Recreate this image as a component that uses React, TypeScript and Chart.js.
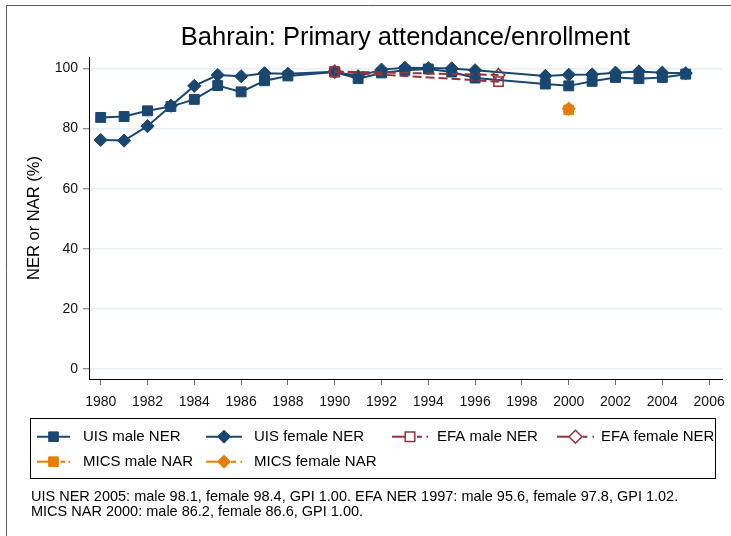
import React, { useEffect, useRef } from 'react';
import { Chart, registerables } from 'chart.js';

Chart.register(...registerables);

const chartTitle = 'Bahrain: Primary attendance/enrollment';
const yAxisTitle = 'NER or NAR (%)';

const uisYears = [1980, 1981, 1982, 1983, 1984, 1985, 1986, 1987, 1988, 1990, 1991, 1992, 1993, 1994, 1995, 1996, 1999, 2000, 2001, 2002, 2003, 2004, 2005];
const uisMale = [83.7, 84.0, 85.9, 87.3, 89.7, 94.3, 92.2, 95.9, 97.5, 98.8, 96.6, 98.5, 99.4, 99.8, 98.8, 96.8, 94.8, 94.2, 95.7, 97.0, 96.6, 97.0, 98.1];
const uisFemale = [76.2, 76.0, 80.8, 87.6, 94.2, 97.8, 97.4, 98.4, 98.2, 98.9, 97.4, 99.6, 100.2, 100.1, 100.0, 99.4, 97.5, 97.9, 98.0, 98.6, 99.0, 98.6, 98.4];

const efaYears = [1990, 1997];
const efaMale = [98.9, 95.6];
const efaFemale = [99.0, 97.8];

const micsYears = [2000];
const micsMale = [86.2];
const micsFemale = [86.6];

const xTicks = [1980, 1982, 1984, 1986, 1988, 1990, 1992, 1994, 1996, 1998, 2000, 2002, 2004, 2006];
const yTicks = [0, 20, 40, 60, 80, 100];

const seriesLabels = ['UIS male NER', 'UIS female NER', 'EFA male NER', 'EFA female NER', 'MICS male NAR', 'MICS female NAR'];

const footnoteLines = [
  'UIS NER 2005: male 98.1, female 98.4, GPI 1.00. EFA NER 1997: male 95.6, female 97.8, GPI 1.02.',
  'MICS NAR 2000: male 86.2, female 86.6, GPI 1.00.',
];

const NAVY = '#1a476f';
const MAROON = '#90353b';
const ORANGE = '#e37e00';
const FONT = '"Liberation Sans", Arial, Helvetica, sans-serif';

const pts = (xs: number[], ys: number[]) => xs.map((x, i) => ({ x, y: ys[i] }));

function drawMarker(ctx: CanvasRenderingContext2D, kind: string, x: number, y: number, color: string, hollow: boolean) {
  ctx.save();
  ctx.setLineDash([]);
  ctx.beginPath();
  if (kind === 'square') {
    const h = 4.8;
    ctx.rect(x - h, y - h, 2 * h, 2 * h);
  } else {
    const r = 6.5;
    ctx.moveTo(x - r, y);
    ctx.lineTo(x, y - r);
    ctx.lineTo(x + r, y);
    ctx.lineTo(x, y + r);
    ctx.closePath();
  }
  if (hollow) {
    ctx.fillStyle = '#fff';
    ctx.fill();
    ctx.lineWidth = 1.5;
    ctx.strokeStyle = color;
    ctx.stroke();
  } else {
    ctx.fillStyle = color;
    ctx.fill();
    ctx.lineWidth = 1;
    ctx.strokeStyle = color;
    ctx.stroke();
  }
  ctx.restore();
}

const decorPlugin = {
  id: 'decor',
  beforeDraw(chart: any) {
    const ctx = chart.ctx as CanvasRenderingContext2D;
    ctx.save();
    ctx.fillStyle = '#fff';
    ctx.fillRect(0, 0, chart.width, chart.height);
    ctx.strokeStyle = '#5a5a5a';
    ctx.lineWidth = 1;
    ctx.beginPath();
    ctx.moveTo(6.5, chart.height);
    ctx.lineTo(6.5, 5.5);
    ctx.lineTo(chart.width, 5.5);
    ctx.stroke();
    ctx.restore();
  },
  afterDraw(chart: any) {
    const ctx = chart.ctx as CanvasRenderingContext2D;
    ctx.save();
    // legend box
    ctx.strokeStyle = '#000';
    ctx.lineWidth = 1;
    ctx.strokeRect(30.5, 418.5, 685, 60);

    const cols = [
      { x1: 37, x2: 70, tx: 83 },
      { x1: 206, x2: 242, tx: 254 },
      { x1: 392, x2: 428, tx: 437 },
      { x1: 557, x2: 594, tx: 601 },
    ];
    const rows = [436.7, 461.7];
    const items = [
      { color: NAVY, kind: 'square', hollow: false, dashed: false },
      { color: NAVY, kind: 'diamond', hollow: false, dashed: false },
      { color: MAROON, kind: 'square', hollow: true, dashed: true },
      { color: MAROON, kind: 'diamond', hollow: true, dashed: true },
      { color: ORANGE, kind: 'square', hollow: false, dashed: true },
      { color: ORANGE, kind: 'diamond', hollow: false, dashed: true },
    ];
    ctx.font = `15px ${FONT}`;
    ctx.textBaseline = 'middle';
    ctx.textAlign = 'left';
    items.forEach((it, i) => {
      const c = cols[i % 4];
      const y = rows[Math.floor(i / 4)];
      const mid = (c.x1 + c.x2) / 2;
      ctx.strokeStyle = it.color;
      ctx.lineWidth = 2;
      ctx.setLineDash([]);
      if (!it.dashed) {
        ctx.beginPath();
        ctx.moveTo(c.x1, y);
        ctx.lineTo(c.x2, y);
        ctx.stroke();
      } else {
        ctx.beginPath();
        ctx.moveTo(c.x1, y);
        ctx.lineTo(mid, y);
        ctx.stroke();
        ctx.beginPath();
        ctx.moveTo(mid + 7, y);
        ctx.lineTo(mid + 12, y);
        ctx.moveTo(c.x2 - 1.5, y);
        ctx.lineTo(c.x2, y);
        ctx.stroke();
      }
      drawMarker(ctx, it.kind, mid, y, it.color, it.hollow);
      ctx.fillStyle = '#000';
      ctx.fillText(seriesLabels[i], c.tx, y);
    });

    // footnote
    ctx.font = `14.5px ${FONT}`;
    ctx.fillStyle = '#000';
    footnoteLines.forEach((line, i) => {
      ctx.fillText(line, 31, 497 + i * 15);
    });
    ctx.restore();
  },
};

export default function App() {
  const ref = useRef<HTMLCanvasElement | null>(null);

  useEffect(() => {
    document.body.style.margin = '0';
    const canvas = ref.current;
    if (!canvas) return;

    const chart = new Chart(canvas, {
      type: 'line',
      data: {
        datasets: [
          {
            label: seriesLabels[0],
            data: pts(uisYears, uisMale),
            borderColor: NAVY,
            backgroundColor: NAVY,
            borderWidth: 2,
            pointStyle: 'rect',
            pointRadius: 7,
            pointBorderWidth: 1,
            order: 6,
          },
          {
            label: seriesLabels[1],
            data: pts(uisYears, uisFemale),
            borderColor: NAVY,
            backgroundColor: NAVY,
            borderWidth: 2,
            pointStyle: 'rectRot',
            pointRadius: 6.6,
            pointBorderWidth: 1,
            order: 5,
          },
          {
            label: seriesLabels[2],
            data: pts(efaYears, efaMale),
            borderColor: MAROON,
            backgroundColor: 'rgba(255,255,255,0)',
            borderWidth: 2,
            borderDash: [9, 4],
            pointStyle: 'rect',
            pointRadius: 6.6,
            pointBorderWidth: 1.5,
            order: 4,
          },
          {
            label: seriesLabels[3],
            data: pts(efaYears, efaFemale),
            borderColor: MAROON,
            backgroundColor: 'rgba(255,255,255,0)',
            borderWidth: 2,
            borderDash: [9, 4],
            pointStyle: 'rectRot',
            pointRadius: 6.4,
            pointBorderWidth: 1.5,
            order: 3,
          },
          {
            label: seriesLabels[4],
            data: pts(micsYears, micsMale),
            borderColor: ORANGE,
            backgroundColor: ORANGE,
            borderWidth: 2,
            borderDash: [9, 4],
            pointStyle: 'rect',
            pointRadius: 6.8,
            pointBorderWidth: 1,
            order: 2,
          },
          {
            label: seriesLabels[5],
            data: pts(micsYears, micsFemale),
            borderColor: ORANGE,
            backgroundColor: ORANGE,
            borderWidth: 2,
            borderDash: [9, 4],
            pointStyle: 'rectRot',
            pointRadius: 6.6,
            pointBorderWidth: 1,
            order: 1,
          },
        ],
      },
      options: {
        responsive: false,
        animation: false,
        events: [],
        layout: { padding: { left: 0, top: 0, right: 9, bottom: 0 } },
        plugins: {
          legend: { display: false },
          tooltip: { enabled: false },
          title: {
            display: true,
            text: chartTitle,
            fullSize: false,
            color: '#000',
            font: { family: FONT, size: 25.5, weight: 'normal', lineHeight: 1.2 },
            padding: { top: 23, bottom: 3.4 },
          },
        },
        scales: {
          x: {
            type: 'linear',
            min: 1979.5,
            max: 2006.55,
            afterFit: (s: any) => {
              s.height = 157;
              s.paddingLeft = 0;
              s.paddingRight = 0;
            },
            afterBuildTicks: (s: any) => { s.ticks = xTicks.map((v) => ({ value: v })); },
            grid: { drawOnChartArea: false, drawTicks: true, tickLength: 6, tickColor: '#6e6e6e', tickWidth: 1 },
            border: { display: true, color: '#000', width: 1 },
            ticks: {
              color: '#111',
              font: { family: FONT, size: 14 },
              padding: 9,
              maxRotation: 0,
              autoSkip: false,
              callback: (v: any) => String(v),
            },
          },
          y: {
            type: 'linear',
            min: -3.3,
            max: 103.8,
            afterFit: (s: any) => {
              s.width = 89;
              s.paddingTop = 0;
              s.paddingBottom = 0;
            },
            afterBuildTicks: (s: any) => { s.ticks = yTicks.map((v) => ({ value: v })); },
            grid: { color: '#e8eff3', lineWidth: 1.5, drawTicks: true, tickLength: 6, tickColor: '#6e6e6e', tickWidth: 1 },
            border: { display: true, color: '#000', width: 1 },
            ticks: {
              color: '#111',
              font: { family: FONT, size: 14 },
              padding: 5,
              callback: (v: any) => String(v),
            },
            title: {
              display: true,
              text: yAxisTitle,
              color: '#000',
              font: { family: FONT, size: 16.5, lineHeight: 1.2 },
              padding: { top: 25, bottom: 0 },
            },
          },
        },
      },
      plugins: [decorPlugin],
    } as any);

    return () => chart.destroy();
  }, []);

  return (
    <div style={{ position: 'relative', width: 731, height: 536 }}>
      <canvas ref={ref} width={731} height={536} style={{ display: 'block', width: 731, height: 536 }} />
    </div>
  );
}
